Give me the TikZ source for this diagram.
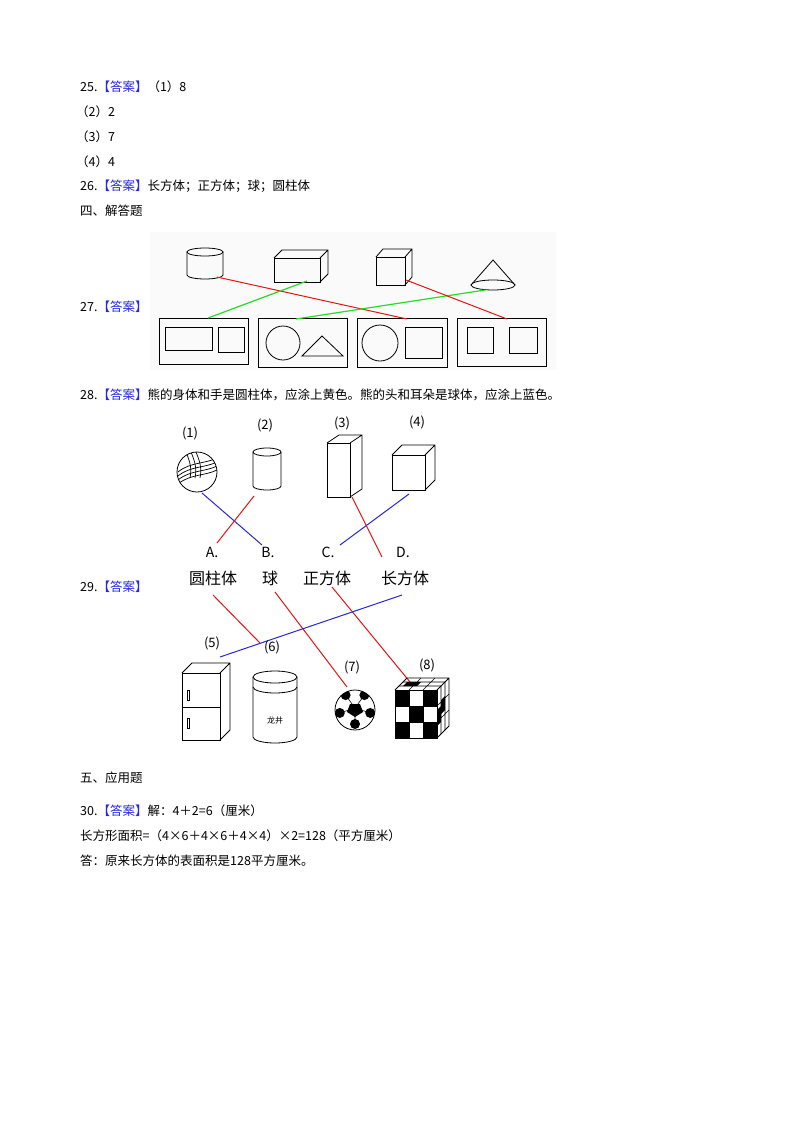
\documentclass[tikz,border=0pt]{standalone}
\usepackage{fontspec}
\usetikzlibrary{calc}
\setmainfont{Noto Sans CJK SC}
\definecolor{ansblue}{RGB}{40,40,230}
\definecolor{lred}{RGB}{230,20,20}
\definecolor{lgreen}{RGB}{40,220,40}
\definecolor{lblue}{RGB}{40,40,210}
\newcommand{\ans}{{\color{ansblue}【答案】}}
\begin{document}
\begin{tikzpicture}[x=1pt,y=-1pt,
  txt/.style={anchor=west,inner sep=0pt,font=\fontsize{12.5}{14}\selectfont},
  lab/.style={inner sep=0pt,font=\fontsize{13}{14}\selectfont},
  word/.style={inner sep=0pt,font=\fontsize{16}{18}\selectfont},
  sh/.style={draw,line width=0.8pt},
  rl/.style={draw=lred,line width=1pt},
  gl/.style={draw=lgreen,line width=1.2pt},
  bl/.style={draw=lblue,line width=1pt}]
\useasboundingbox (0,0) rectangle (800,1132);
\fill[white] (0,0) rectangle (800,1132);
% texts
\node[txt] (t25) at (80,87) {25.\ans（1）8};
\node[txt] (t25b) at (76,112) {（2）2};
\node[txt] (t25c) at (76,137) {（3）7};
\node[txt] (t25d) at (76,162) {（4）4};
\node[txt] (t26) at (80,186) {26.\ans 长方体；正方体；球；圆柱体};
\node[txt] (t4) at (80,211) {四、解答题};
\node[txt] (t27) at (80,307) {27.\ans};
\node[txt] (t28) at (80,395) {28.\ans 熊的身体和手是圆柱体，应涂上黄色。熊的头和耳朵是球体，应涂上蓝色。};
\node[txt] (t29) at (80,587) {29.\ans};
\node[txt] (t5) at (80,778) {五、应用题};
\node[txt] (t30) at (80,811) {30.\ans 解：4＋2=6（厘米）};
\node[txt] (t30b) at (80,836) {长方形面积=（4×6＋4×6＋4×4）×2=128（平方厘米）};
\node[txt] (t30c) at (80,861) {答：原来长方体的表面积是128平方厘米。};
% ---------- figure 27
\fill[black!2] (150,232) rectangle (556,370);
% cylinder
\draw[sh] (187,252) -- (187,275) arc[start angle=180,end angle=0,x radius=18,y radius=4] -- (223,252);
\draw[sh] (205,252) ellipse[x radius=18,y radius=4];
% cuboid
\draw[sh] (274,258) rectangle (320,282);
\draw[sh] (274,258) -- (282,250) -- (328,250) -- (328,274) -- (320,282) (320,258) -- (328,250);
% cube
\draw[sh] (376,257) rectangle (405,285);
\draw[sh] (376,257) -- (383,249) -- (412,249) -- (412,277) -- (405,285) (405,257) -- (412,249);
% cone
\draw[sh] (493,285) ellipse[x radius=22,y radius=5];
\draw[sh] (471,285) -- (493,260) -- (515,285);
% bottom boxes
\draw[sh] (159,318) rectangle (248,364);
\draw[sh] (165,327) rectangle (212,350);
\draw[sh] (218,327) rectangle (244,352);
\draw[sh] (258,318) rectangle (347,367);
\draw[sh] (283,343) circle[radius=17];
\draw[sh] (302,356) -- (322,336) -- (343,356) -- cycle;
\draw[sh] (357,318) rectangle (447,367);
\draw[sh] (380,343) circle[radius=18];
\draw[sh] (405,327) rectangle (442,358);
\draw[sh] (457,318) rectangle (546,366);
\draw[sh] (467,327) rectangle (493,353);
\draw[sh] (509,327) rectangle (537,353);
\coordinate (cyl) at (217,277); \coordinate (b3t) at (407,319);
\coordinate (cub) at (307,281); \coordinate (b1t) at (208,318);
\coordinate (con) at (485,290); \coordinate (b2t) at (296,319);
\coordinate (cube) at (406,280); \coordinate (b4t) at (507,319);
\draw[rl] (cyl) -- (b3t);
\draw[gl] (cub) -- (b1t);
\draw[gl] (con) -- (b2t);
\draw[rl] (cube) -- (b4t);
% ---------- figure 29
\node[lab] (l1) at (190,433) {(1)};
\node[lab] (l2) at (265,425) {(2)};
\node[lab] (l3) at (342,423) {(3)};
\node[lab] (l4) at (417,422) {(4)};
% volleyball
\draw[sh] (197,472) circle[radius=20];
\begin{scope}
\clip (197,472) circle[radius=20];
\foreach \i in {0,4,8,12}{\draw[line width=0.7pt] (178,484-\i) .. controls (190,474-\i) and (205,476-\i) .. (217,470-\i);}
\foreach \i in {0,5,10}{\draw[line width=0.7pt] (186+\i,452) .. controls (190+\i,462) and (192+\i,468) .. (190+\i,478);}
\end{scope}
% cylinder 2
\draw[sh] (253,452) -- (253,486) arc[start angle=180,end angle=0,x radius=14,y radius=4] -- (281,452);
\draw[sh] (267,452) ellipse[x radius=14,y radius=4];
% cuboid 3
\draw[sh] (327,443) rectangle (350,497);
\draw[sh] (327,443) -- (339,435) -- (362,435) -- (362,489) -- (350,497) (350,443) -- (362,435);
% cube 4
\draw[sh] (392,455) rectangle (425,490);
\draw[sh] (392,455) -- (402,445) -- (435,445) -- (435,480) -- (425,490) (425,455) -- (435,445);
% letters & words
\node[lab,font=\fontsize{14}{15}\selectfont] (A) at (212,552) {A.};
\node[lab,font=\fontsize{14}{15}\selectfont] (B) at (268,552) {B.};
\node[lab,font=\fontsize{14}{15}\selectfont] (C) at (328,552) {C.};
\node[lab,font=\fontsize{14}{15}\selectfont] (D) at (403,552) {D.};
\node[word] (wA) at (213,578) {圆柱体};
\node[word] (wB) at (270,578) {球};
\node[word] (wC) at (327,578) {正方体};
\node[word] (wD) at (405,578) {长方体};
\coordinate (p1) at (202,493); \coordinate (pB) at (262,545);
\coordinate (pA) at (217,543); \coordinate (p2) at (254,496);
\coordinate (pC) at (340,545); \coordinate (p4) at (409,494);
\coordinate (p3) at (352,497); \coordinate (pD) at (382,557);
\coordinate (qA) at (213,595); \coordinate (p6) at (260,643);
\coordinate (qB) at (275,592); \coordinate (p7) at (347,687);
\coordinate (qC) at (332,587); \coordinate (p8) at (410,682);
\coordinate (qD) at (402,595); \coordinate (p5) at (220,657);
\draw[bl] (p1) -- (pB);
\draw[rl] (pA) -- (p2);
\draw[bl] (pC) -- (p4);
\draw[rl] (p3) -- (pD);
\draw[rl] (qA) -- (p6);
\draw[rl] (qB) -- (p7);
\draw[rl] (qC) -- (p8);
\draw[bl] (qD) -- (p5);
\node[lab] (l5) at (212,643) {(5)};
\node[lab] (l6) at (272,647) {(6)};
\node[lab] (l7) at (352,667) {(7)};
\node[lab] (l8) at (427,665) {(8)};
% fridge
\draw[sh] (182,673) rectangle (220,740);
\draw[sh] (182,673) -- (192,663) -- (230,663) -- (230,730) -- (220,740) (220,673) -- (230,663);
\draw[sh] (182,707) -- (220,707);
\draw[line width=0.6pt] (187,690) rectangle (189,700);
\draw[line width=0.6pt] (187,718) rectangle (189,728);
% jar
\draw[sh] (253,677) -- (253,737) arc[start angle=180,end angle=0,x radius=22,y radius=6] -- (297,677);
\draw[sh] (275,677) ellipse[x radius=22,y radius=6];
\draw[sh] (253,687) arc[start angle=180,end angle=0,x radius=22,y radius=6];
\node[inner sep=0pt,font=\fontsize{8}{9}\selectfont] (jt) at (275,720) {龙井};
% soccer ball
\begin{scope}
\clip (355,710) circle[radius=20];
\foreach \a in {18,90,162,234,306}{\fill ($(355,708)+(\a:16)$) circle[radius=5];}
\draw[line width=0.6pt] (355,708) -- +(18:16) (355,708) -- +(90:16) (355,708) -- +(162:16) (355,708) -- +(234:16) (355,708) -- +(306:16);
\end{scope}
\fill (350,704) -- (360,704) -- (363,712) -- (355,717) -- (347,712) -- cycle;
\draw[sh] (355,710) circle[radius=20];
% rubik cube
\foreach \i in {0,1,2}{\foreach \j in {0,1,2}{
  \pgfmathtruncatemacro{\k}{mod(\i+\j,2)}
  \ifnum\k=0 \fill (395+14*\i,690+16*\j) rectangle ++(14,16);\fi}}
\draw[sh] (395,690) rectangle (437,738);
\foreach \i in {1,2}{\draw[line width=0.6pt] (395+14*\i,690) -- (395+14*\i,738); \draw[line width=0.6pt] (395,690+16*\i) -- (437,690+16*\i);}
\fill (403,686) -- (407,682) -- (421,682) -- (417,686) -- cycle;
\fill (441,700) -- (445,696) -- (445,710) -- (441,714) -- cycle;
\fill (437,710) -- (441,706) -- (441,722) -- (437,726) -- cycle;
\draw[sh] (395,690) -- (407,678) -- (449,678) -- (449,726) -- (437,738) (437,690) -- (449,678);
\draw[line width=0.6pt] (399,686) -- (441,686) (403,682) -- (445,682) (409,690) -- (421,678) (423,690) -- (435,678);
\draw[line width=0.6pt] (441,686) -- (441,734) (445,682) -- (445,730) (437,706) -- (449,694) (437,722) -- (449,710);
\end{tikzpicture}
\end{document}
